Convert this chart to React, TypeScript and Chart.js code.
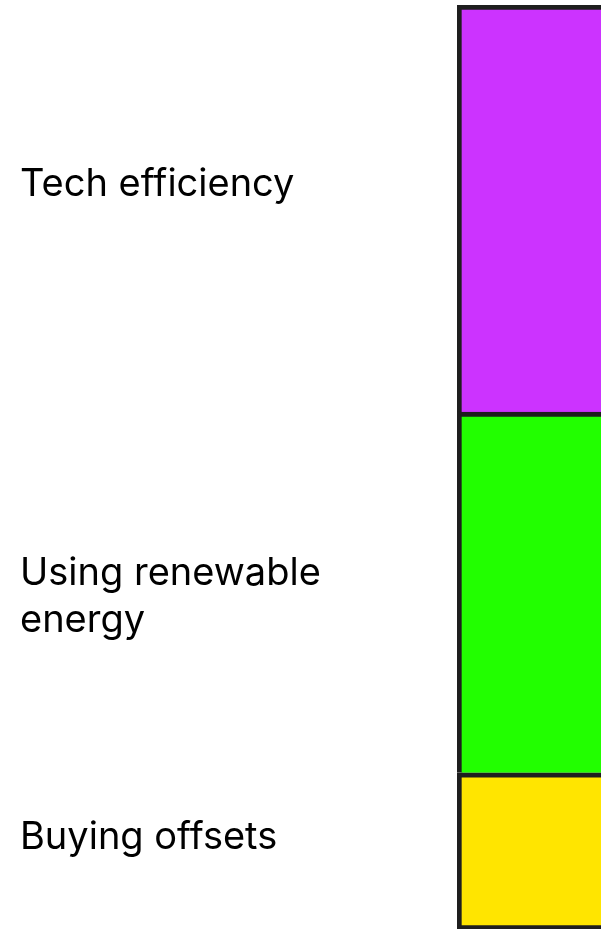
import React, { useEffect, useRef } from "react";
import { Chart, registerables } from "chart.js";

Chart.register(...registerables);

const categories = ["Approach"];
const seriesNames = ["Buying offsets", "Using renewable energy", "Tech efficiency"];
const seriesValues = [17, 39, 44];
const seriesColors = ["#FFE500", "#22FF00", "#CC33FF"];
const tickValues = [10, 36, 80.6];
const tickLabels: (string | string[])[] = ["Buying offsets", ["Using renewable", "energy"], "Tech efficiency"];

export default function App() {
  const ref = useRef<HTMLCanvasElement | null>(null);

  useEffect(() => {
    document.body.style.margin = "0";
    document.body.style.overflow = "hidden";
    const canvas = ref.current;
    if (!canvas) return;
    const chart = new Chart(canvas, {
      type: "bar",
      data: {
        labels: categories,
        datasets: seriesValues.map((v, i) => ({
          label: seriesNames[i],
          data: [v],
          backgroundColor: seriesColors[i],
          borderColor: "#1E1E1E",
          borderWidth: { top: 5, left: 5, right: 5, bottom: i === 0 ? 5 : 0 },
          borderSkipped: false,
          barPercentage: 1,
          categoryPercentage: 1,
        })),
      },
      options: {
        animation: false,
        responsive: false,
        maintainAspectRatio: false,
        layout: { padding: { top: 5, left: 20, right: 0, bottom: 0 } },
        plugins: { legend: { display: false }, tooltip: { enabled: false } },
        scales: {
          x: { stacked: true, display: false },
          y: {
            stacked: true,
            min: 0,
            max: 100,
            grid: { display: false },
            border: { display: false },
            ticks: {
              autoSkip: false,
              crossAlign: "far",
              color: "#000",
              padding: 0,
              font: { family: "Inter, 'Liberation Sans', sans-serif", size: 38, lineHeight: 1.24 },
              callback: (value: any) => {
                const idx = tickValues.indexOf(Number(value));
                return idx >= 0 ? tickLabels[idx] : "";
              },
            },
            afterBuildTicks: (scale: any) => {
              scale.ticks = tickValues.map((v) => ({ value: v }));
            },
            afterFit: (scale: any) => {
              scale.width = 437;
              scale.paddingTop = 0;
              scale.paddingBottom = 0;
            },
          },
        },
      },
    });
    return () => chart.destroy();
  }, []);

  return (
    <div style={{ width: 760, height: 930, overflow: "hidden" }}>
      <canvas ref={ref} width={760} height={930} style={{ display: "block" }} />
    </div>
  );
}
